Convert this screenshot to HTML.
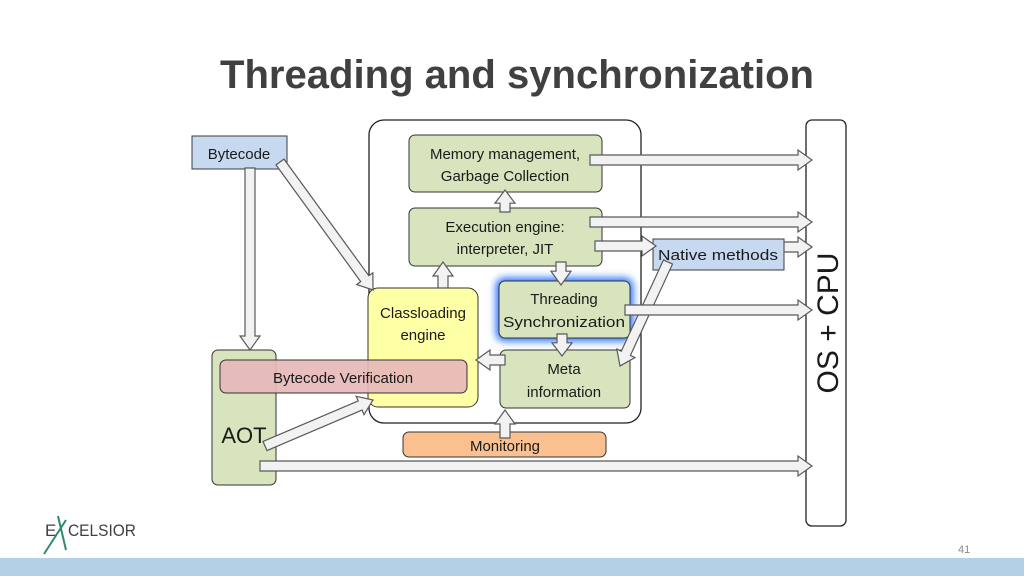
<!DOCTYPE html>
<html><head><meta charset="utf-8"><style>
html,body{margin:0;padding:0;background:#fff}
svg{display:block}
text{font-family:"Liberation Sans",sans-serif;fill:#1a1a1a}
</style></head><body>
<svg id="s" width="1024" height="576" viewBox="0 0 1024 576" xmlns="http://www.w3.org/2000/svg">
<defs>
<filter id="glow" x="-30%" y="-30%" width="160%" height="160%"><feGaussianBlur stdDeviation="4"/></filter>
</defs>
<text x="517" y="88" text-anchor="middle" font-size="40" font-weight="bold" style="fill:#404040" textLength="594" lengthAdjust="spacingAndGlyphs">Threading and synchronization</text>

<rect x="369" y="120" width="272" height="303" rx="15" fill="#fff" stroke="#222" stroke-width="1.3"/>
<rect x="806" y="120" width="40" height="406" rx="6" fill="#fff" stroke="#222" stroke-width="1.3"/>
<text transform="translate(838,323) rotate(-90)" text-anchor="middle" font-size="30">OS + CPU</text>

<rect x="192" y="136" width="95" height="33" fill="#c6d9f1" stroke="#3c3c3c"/>
<text x="239" y="159" text-anchor="middle" font-size="15">Bytecode</text>

<rect x="212" y="350" width="64" height="135" rx="6" fill="#d7e4bd" stroke="#333"/>
<text x="244" y="443" text-anchor="middle" font-size="22">AOT</text>

<rect x="368" y="288" width="110" height="119" rx="10" fill="#ffffa6" stroke="#333"/>
<text x="423" y="318" text-anchor="middle" font-size="15">Classloading</text>
<text x="423" y="340" text-anchor="middle" font-size="15">engine</text>

<rect x="409" y="135" width="193" height="57" rx="6" fill="#d7e4bd" stroke="#333"/>
<text x="505" y="159" text-anchor="middle" font-size="15">Memory  management,</text>
<text x="505" y="181" text-anchor="middle" font-size="15">Garbage  Collection</text>

<rect x="409" y="208" width="193" height="58" rx="6" fill="#d7e4bd" stroke="#333"/>
<text x="505" y="232" text-anchor="middle" font-size="15">Execution engine:</text>
<text x="505" y="254" text-anchor="middle" font-size="15">interpreter, JIT</text>

<rect x="496" y="278" width="137" height="63" rx="8" fill="#1a6cff" filter="url(#glow)"/>
<rect x="499" y="281" width="131" height="57" rx="6" fill="#d7e4bd" stroke="#333"/>
<text x="564" y="304" text-anchor="middle" font-size="15">Threading</text>
<text x="564" y="327" text-anchor="middle" font-size="15" textLength="122" lengthAdjust="spacingAndGlyphs">Synchronization</text>

<rect x="500" y="350" width="130" height="58" rx="6" fill="#d7e4bd" stroke="#333"/>
<text x="564" y="374" text-anchor="middle" font-size="15">Meta</text>
<text x="564" y="397" text-anchor="middle" font-size="15">information</text>

<rect x="220" y="360" width="247" height="33" rx="6" fill="#e6b9b8" fill-opacity="0.92" stroke="#333"/>
<text x="343" y="383" text-anchor="middle" font-size="15">Bytecode Verification</text>

<rect x="403" y="432" width="203" height="25" rx="6" fill="#fac090" stroke="#333"/>
<text x="505" y="451" text-anchor="middle" font-size="15">Monitoring</text>

<rect x="653" y="239" width="131" height="31" fill="#c6d9f1" stroke="#3c3c3c"/>
<text x="718" y="260" text-anchor="middle" font-size="15" textLength="120" lengthAdjust="spacingAndGlyphs">Native methods</text>

<g id="arrows"></g>

<text x="45" y="536" font-size="17" style="fill:#404040">E</text>
<line x1="58" y1="516" x2="66" y2="550" stroke="#2e8b6e" stroke-width="2"/>
<line x1="66" y1="520" x2="44" y2="554" stroke="#2e8b6e" stroke-width="2"/>
<text x="68" y="536" font-size="17" style="fill:#404040" textLength="68" lengthAdjust="spacingAndGlyphs">CELSIOR</text>
<text x="958" y="553" font-size="11" style="fill:#888">41</text>
<rect x="0" y="558" width="1024" height="18" fill="#b4d0e6"/>
</svg>
<script>
var A=[[250,168,250,350],[280,162,373,290],[265,446,373,400],[505,212,505,190],[443,288,443,262],[561,262,561,285],[562,334,562,356],[505,360,476,360],[505,438,505,410],[668,262,620,366],
[590,160,812,160],[590,222,812,222],[595,246,656,246],[784,247,812,247],[625,310,812,310],[260,466,812,466]];
var g=document.getElementById('arrows'),h='';
A.forEach(function(a){var x1=a[0],y1=a[1],x2=a[2],y2=a[3],dx=x2-x1,dy=y2-y1,L=Math.sqrt(dx*dx+dy*dy),ux=dx/L,uy=dy/L,px=-uy,py=ux,w=5,hw=10,hl=Math.min(14,L*0.6);
var bx=x2-ux*hl,by=y2-uy*hl;
var p=[[x1+px*w,y1+py*w],[bx+px*w,by+py*w],[bx+px*hw,by+py*hw],[x2,y2],[bx-px*hw,by-py*hw],[bx-px*w,by-py*w],[x1-px*w,y1-py*w]];
h+='<polygon points="'+p.map(function(q){return q[0].toFixed(1)+','+q[1].toFixed(1)}).join(' ')+'" fill="#f2f2f2" stroke="#595959" stroke-width="1.2"/>';});
g.innerHTML=h;
</script>
</body></html>
